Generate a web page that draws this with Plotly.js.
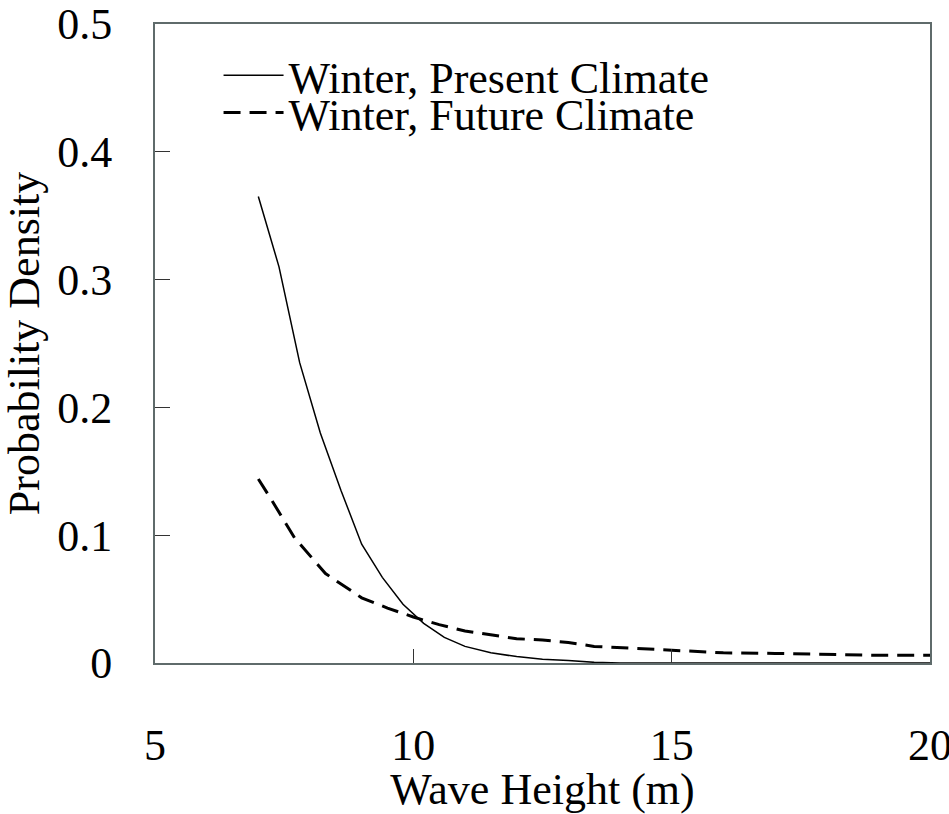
<!DOCTYPE html>
<html>
<head>
<meta charset="utf-8">
<script src="https://cdn.plot.ly/plotly-3.0.1.min.js"></script>
<style>html,body{margin:0;padding:0;background:#fff;}#chart{width:949px;height:814px;}</style>
</head>
<body>
<div id="chart"></div>
<script>
// Wave height (m)
const presentX = [7.0, 7.4, 7.8, 8.2, 8.6, 9.0, 9.4, 9.8, 10.2, 10.6, 11.0, 11.5, 12.0, 12.5, 13.0, 13.5, 14, 15, 16, 17, 18, 19, 20];
const presentY = [0.365, 0.310, 0.235, 0.180, 0.135, 0.093, 0.067, 0.046, 0.031, 0.020, 0.013, 0.008, 0.005, 0.003, 0.002, 0.0005, 0, 0, 0, 0, 0, 0, 0];
const futureX = [7.0, 7.25, 7.7, 8.3, 9.0, 9.5, 10.0, 10.5, 11.0, 11.5, 12.0, 12.5, 13.0, 13.5, 14, 14.5, 15, 15.5, 16, 17, 18, 19, 20];
const futureY = [0.144, 0.128, 0.098, 0.070, 0.051, 0.043, 0.036, 0.030, 0.025, 0.022, 0.019, 0.018, 0.016, 0.013, 0.012, 0.011, 0.010, 0.0095, 0.008, 0.0075, 0.0065, 0.006, 0.006];
const seriesNames = ["Winter, Present Climate", "Winter, Future Climate"];
const xTicks = [5, 10, 15, 20];
const yTicks = [0, 0.1, 0.2, 0.3, 0.4, 0.5];
const yTickText = ["0", "0.1", "0.2", "0.3", "0.4", "0.5"];

const FONT = '"Liberation Serif", "Times New Roman", serif';
const FS = 44;

const traces = [
  {x: presentX, y: presentY, type: "scatter", mode: "lines", name: seriesNames[0],
   line: {color: "#000", width: 1.5}, legend: "legend"},
  {x: futureX, y: futureY, type: "scatter", mode: "lines", name: seriesNames[1],
   line: {color: "#000", width: 3, dash: "17px,9px"}, legend: "legend2"}
];

const legendCommon = {
  font: {family: FONT, size: FS, color: "#000"},
  bgcolor: "rgba(0,0,0,0)", borderwidth: 0,
  xanchor: "left", yanchor: "middle", itemwidth: 60, tracegroupgap: 0
};

const layout = {
  width: 949, height: 814,
  margin: {l: 155, r: 19, t: 24, b: 151},
  paper_bgcolor: "#fff", plot_bgcolor: "#fff",
  font: {family: FONT, size: FS, color: "#000"},
  showlegend: true,
  legend: Object.assign({x: 0.082, y: 0.919}, legendCommon),
  legend2: Object.assign({x: 0.082, y: 0.861}, legendCommon),
  xaxis: {
    range: [5, 20], tickvals: xTicks, ticktext: xTicks.map(String),
    ticks: "inside", ticklen: 14, tickcolor: "#333", tickwidth: 1,
    showline: true, linecolor: "#5f6b6b", linewidth: 2, mirror: true,
    showgrid: false, zeroline: false, fixedrange: true,
    tickfont: {family: FONT, size: FS, color: "#000"},
    ticklabelstandoff: 42, ticklabeloverflow: "allow",
    title: {text: "Wave Height (m)", font: {family: FONT, size: FS, color: "#000"}, standoff: 12}
  },
  yaxis: {
    range: [0, 0.5], tickvals: yTicks, ticktext: yTickText,
    ticks: "inside", ticklen: 15, tickcolor: "#333", tickwidth: 1,
    showline: true, linecolor: "#5f6b6b", linewidth: 2, mirror: true,
    showgrid: false, zeroline: false, fixedrange: true,
    tickfont: {family: FONT, size: FS, color: "#000"},
    ticklabelstandoff: 32, ticklabeloverflow: "allow",
    title: {text: "Probability Density", font: {family: FONT, size: FS, color: "#000"}, standoff: 12}
  }
};

Plotly.newPlot("chart", traces, layout, {displayModeBar: false, staticPlot: true});
</script>
</body>
</html>
